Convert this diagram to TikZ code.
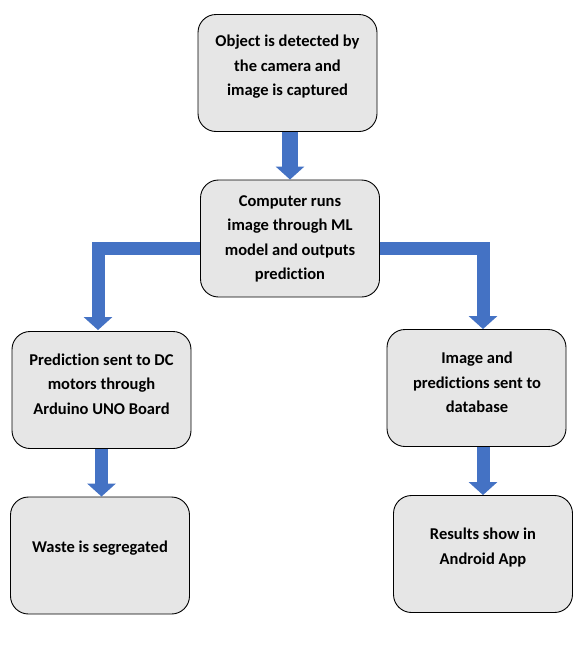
\documentclass[tikz,border=0pt]{standalone}
\usepackage{fontspec}
\setmainfont{Carlito}[Ligatures=NoCommon]
\usetikzlibrary{arrows.meta,calc}
\definecolor{boxgray}{HTML}{E6E6E6}
\definecolor{arrowblue}{HTML}{4472C4}
\tikzset{
  box/.style={draw=black, line width=0.9pt, fill=boxgray, rounded corners=18pt,
    minimum width=179pt, minimum height=117pt, inner sep=0pt},
  txt/.style={align=center, inner sep=0pt, text=black,
    font=\fontsize{16.5}{24.5}\selectfont\bfseries},
  flow/.style={draw=arrowblue, line width=13pt, line cap=butt, line join=miter,
    -{Triangle[width=28pt,length=13pt]}}
}
\begin{document}
\begin{tikzpicture}[x=1pt,y=-1pt]
\useasboundingbox (0,0) rectangle (583,648);
% boxes
\node[box] (b1) at (287.5,73) {};
\node[box] (b2) at (290,238.5) {};
\node[box] (b3) at (101.5,390) {};
\node[box] (b4) at (476.5,388) {};
\node[box] (b5) at (100,555.5) {};
\node[box] (b6) at (483,554) {};
% texts
\node[txt] (t1) at (287.5,67) {Object is detected by\\the camera and\\image is captured};
\node[txt] (t2) at (290,239) {Computer runs\\image through ML\\model and outputs\\prediction};
\node[txt] (t3) at (101.5,384) {Prediction sent to DC\\motors through\\Arduino UNO Board};
\node[txt] (t4) at (477,382.5) {Image and\\predictions sent to\\database};
\node[txt] (t5) at (100,548) {Waste is segregated};
\node[txt] (t6) at (483,547.5) {Results show in\\Android App};
% arrows
\draw[flow, line width=16pt] (b1.south -| b2.north) -- (b2.north);
\draw[flow] ([yshift=-9.5pt]b2.west) -| ([xshift=-3.5pt,yshift=1pt]b3.north);
\draw[flow] ([yshift=-9.5pt]b2.east) -| ([xshift=6.5pt]b4.north);
\draw[flow] (b3.south) -- (b3.south |- b5.north);
\draw[flow] (b6.north |- b4.south) -- (b6.north);
\end{tikzpicture}
\end{document}
